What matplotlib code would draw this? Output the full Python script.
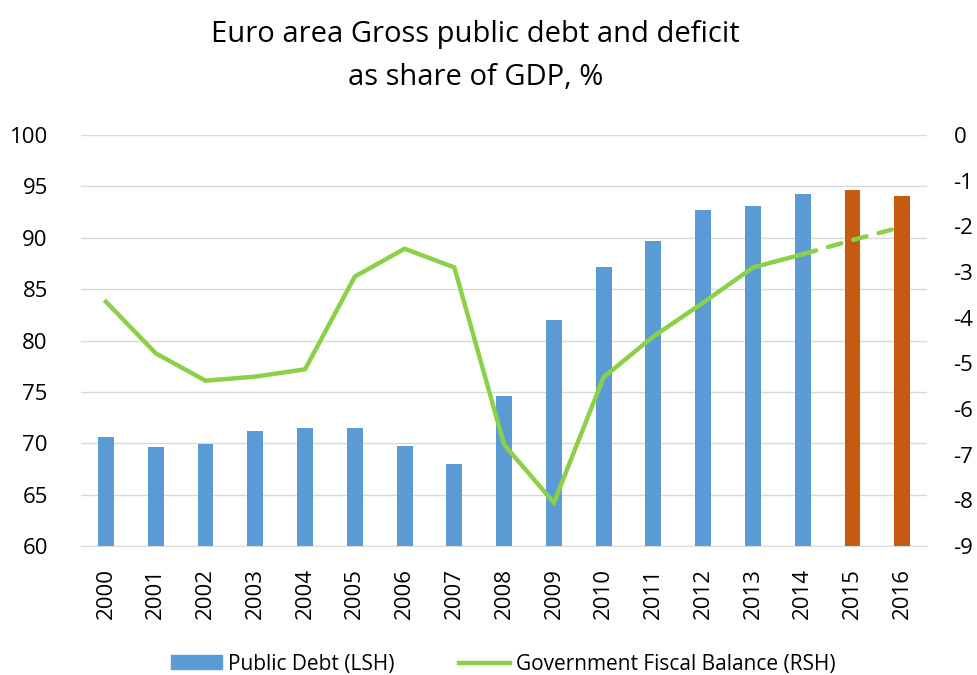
import matplotlib.pyplot as plt
import numpy as np
from matplotlib.lines import Line2D
from matplotlib.patches import Patch

plt.rcParams['font.family'] = ['Open Sans', 'DejaVu Sans']
plt.rcParams['axes.unicode_minus'] = False

years = [str(y) for y in range(2000, 2017)]
public_debt = [70.6, 69.6, 69.9, 71.2, 71.5, 71.5, 69.7, 68.0, 74.6,
               82.0, 87.2, 89.7, 92.7, 93.1, 94.3, 94.6, 94.1]
fiscal_balance = [-3.65, -4.78, -5.38, -5.29, -5.13, -3.10, -2.49, -2.90, -6.78,
                  -8.05, -5.30, -4.41, -3.67, -2.90, -2.61, -2.30, -2.01]
n_forecast = 2  # 2015, 2016 are forecasts

blue = "#5B9BD5"
orange = "#C55A11"
green = "#8CD04A"

fig = plt.figure(figsize=(9.77, 6.75), dpi=100)
ax = fig.add_axes([0.083, 0.191, 0.866, 0.609])

x = np.arange(len(years))
bar_colors = [blue] * (len(years) - n_forecast) + [orange] * n_forecast
ax.bar(x, public_debt, width=0.32, color=bar_colors, zorder=2)

ax.set_ylim(60, 100)
ax.set_yticks(np.arange(60, 101, 5))
ax.set_xlim(-0.5, len(years) - 0.5)
ax.set_xticks(x)
ax.set_xticklabels(years, rotation=90, fontsize=16)
ax.tick_params(axis='y', labelsize=16, length=0, pad=24)
ax.tick_params(axis='x', length=0, pad=16)
ax.grid(axis='y', color="#D9D9D9", linewidth=1, zorder=0)
for s in ['top', 'left', 'right']:
    ax.spines[s].set_visible(False)
ax.spines['bottom'].set_color("#D9D9D9")

ax2 = ax.twinx()
split = len(years) - n_forecast - 1
ax2.plot(x[:split + 1], fiscal_balance[:split + 1], color=green, linewidth=3.2,
         solid_joinstyle='miter', zorder=3)
ax2.plot(x[split:], fiscal_balance[split:], color=green, linewidth=3.2,
         linestyle=(0, (3.1, 2.8)), dash_capstyle='round', zorder=3)
ax2.set_ylim(-9, 0)
ax2.set_yticks(np.arange(-9, 1, 1))
ax2.tick_params(axis='y', labelsize=16, length=0, pad=19)
for s in ['top', 'left', 'right', 'bottom']:
    ax2.spines[s].set_visible(False)

fig.text(0.487, 0.917, "Euro area Gross public debt and deficit\nas share of GDP, %",
         ha='center', va='center', fontsize=21, linespacing=1.6)

handles = [Patch(color=blue), Line2D([0], [0], color=green, linewidth=3.2)]
fig.legend(handles, ["Public Debt (LSH)", "Government Fiscal Balance (RSH)"],
           loc='center', bbox_to_anchor=(0.515, 0.016), ncol=2, frameon=False,
           fontsize=15, handlelength=2.45, handleheight=0.65, columnspacing=3.1,
           handletextpad=0.3, borderpad=0)

fig.savefig("out.png", dpi=100)
